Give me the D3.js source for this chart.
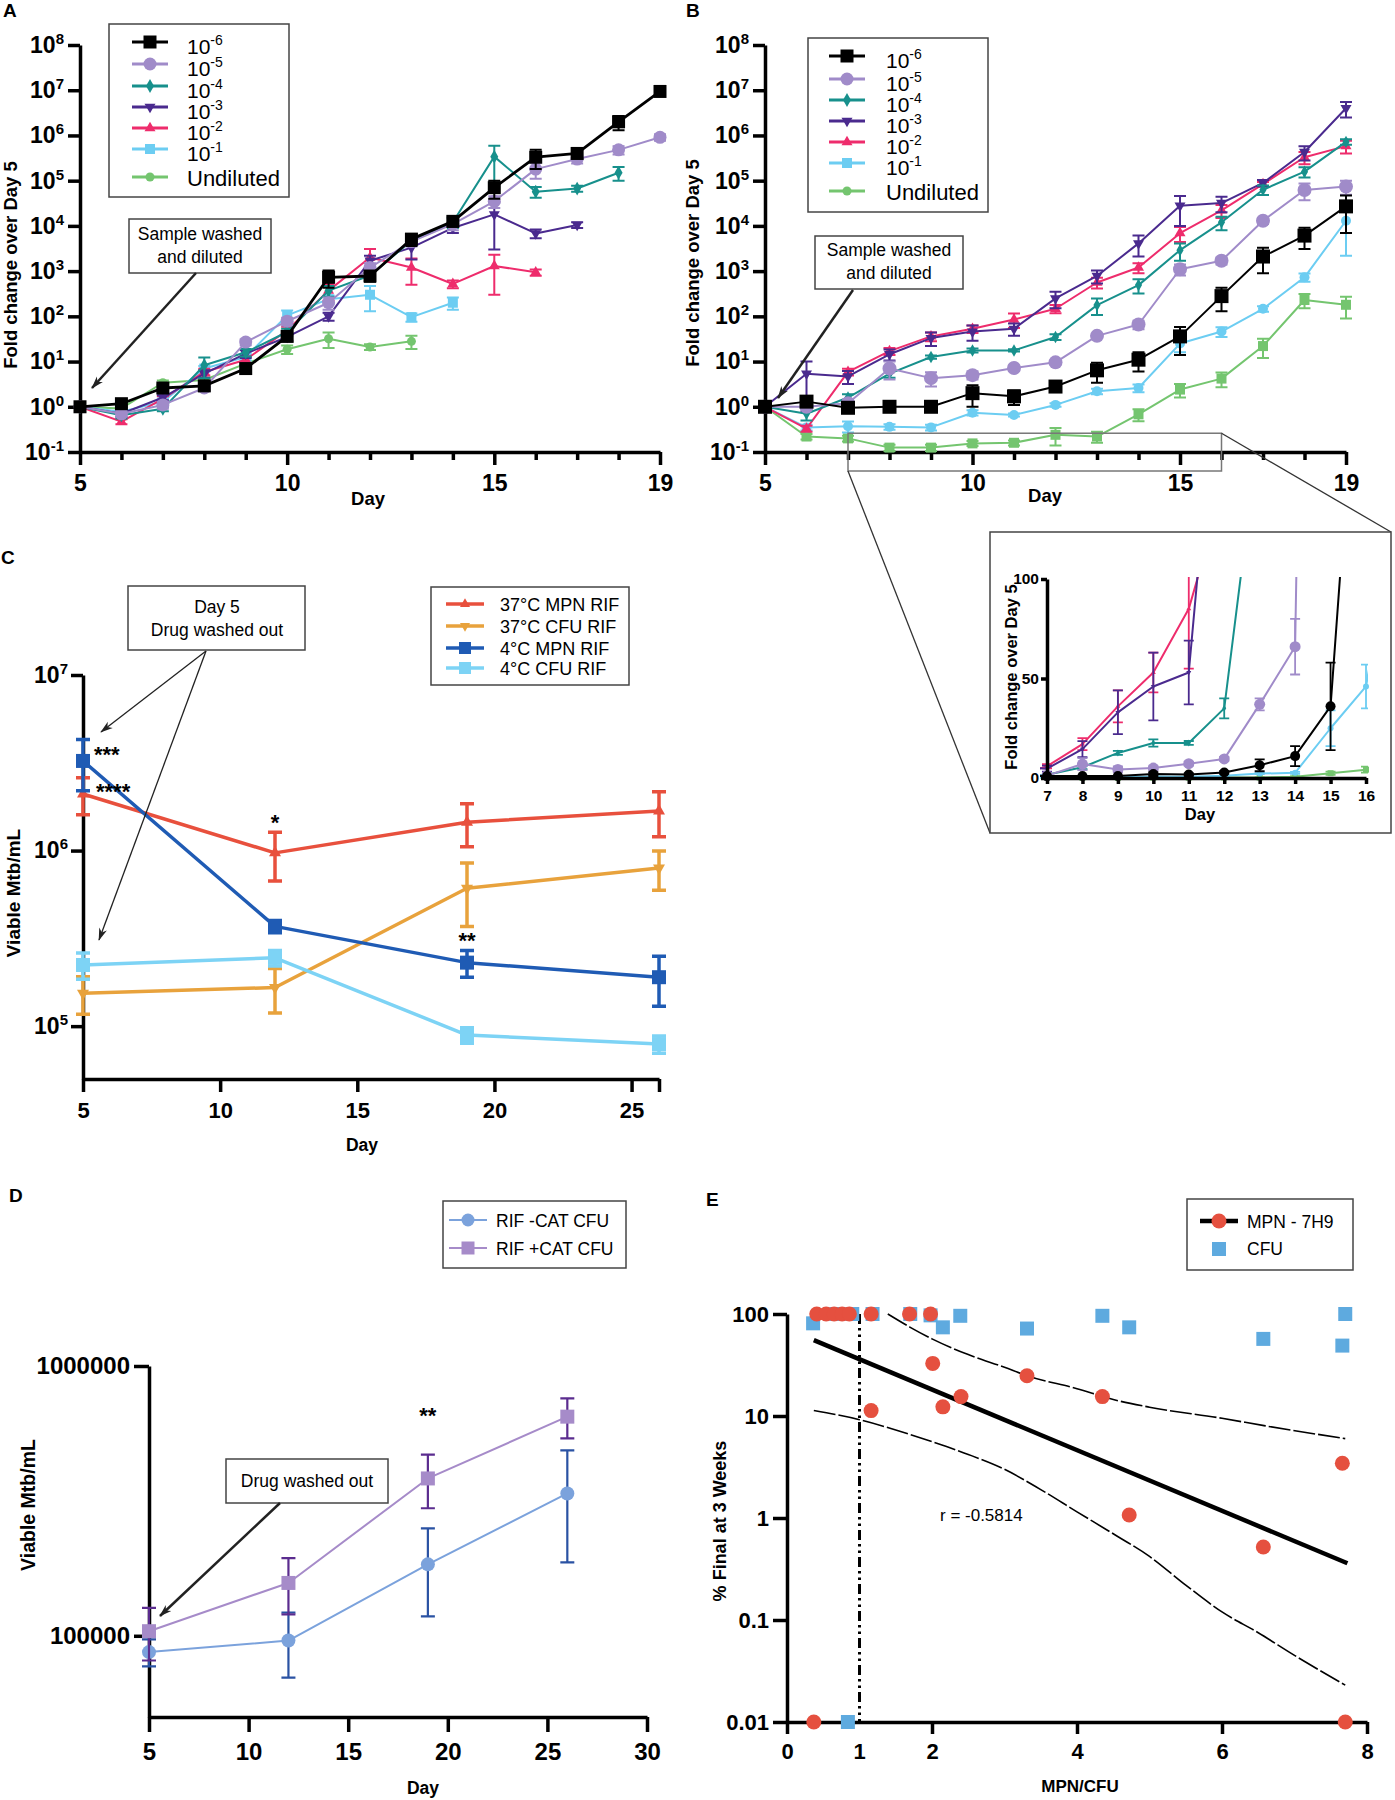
<!DOCTYPE html>
<html>
<head>
<meta charset="utf-8">
<script src="https://cdn.jsdelivr.net/npm/d3@7"></script>
<style>
  body { margin: 0; background: #fff; }
</style>
</head>
<body>
<svg id="fig" width="1395" height="1800"></svg>
<script>
// Five-panel figure: regrowth after dilution (A, B + inset), drug washout (C, D), MPN/CFU correlation (E).

// ---- A / B: fold change over day 5, by dilution ----
var days = [5, 6, 7, 8, 9, 10, 11, 12, 13, 14, 15, 16, 17, 18, 19];
var dilutionExp = [-6, -5, -4, -3, -2, -1];

var foldA_m6 = [1, 1.17, 2.6, 2.9, 7, 36, 730, 780, 5100, 12600, 70000, 330000, 400000, 2000000, 9400000];
var foldA_m5 = [1, 0.7, 1.1, 2.6, 27, 78, 200, 1200, 4500, 11000, 35000, 180000, 300000, 480000, 910000];
var foldA_m4 = [1, 0.65, 0.9, 8.3, 16, 45, 370, 800, 4700, 12000, 340000, 57000, 67000, 150000, null];
var foldA_m3 = [1, 0.7, 1.6, 5.4, 15, 35, 100, 1700, 3300, 9000, 18000, 6800, 10500, null, null];
var foldA_m2 = [1, 0.47, 1.5, 5.9, 11, 49, 370, 2000, 1200, 520, 1300, 940, null, null, null];
var foldA_m1 = [1, 0.78, 1.3, 7, 12.6, 105, 240, 300, 96, 200, null, null, null, null, null];
var foldA_und = [1, 0.92, 3.4, 3.9, 9, 18.7, 32, 21, 28, null, null, null, null, null, null];

var errA_m6 = [0.1, 0.2, 0.5, 0.6, 1.5, 8, 300, 200, 1500, 3000, 30000, 150000, 90000, 700000, 2000000];
var errA_m5 = [0, 0.1, 0.2, 0.4, 4, 15, 60, 300, 1000, 3000, 10000, 70000, 60000, 100000, 150000];
var errA_m4 = [0, 0.1, 0.1, 4, 3, 8, 100, 200, 1000, 3000, 250000, 15000, 10000, 50000, 0];
var errA_m3 = [0, 0.1, 0.2, 1, 3, 6, 20, 500, 1500, 2000, 15000, 1500, 1500, 0, 0];
var errA_m2 = [0, 0.06, 0.2, 1, 2, 10, 150, 1100, 700, 100, 1000, 150, 0, 0, 0];
var errA_m1 = [0, 0.1, 0.2, 1, 2, 30, 50, 170, 20, 60, 0, 0, 0, 0, 0];
var errA_und = [0, 0.1, 0.4, 0.5, 1, 4, 12, 3, 9, 0, 0, 0, 0, 0, 0];

var foldB_m6 = [1, 1.3, 0.95, 1, 1, 2.0, 1.7, 2.8, 6.4, 11, 36, 280, 2100, 6100, 27000];
var foldB_m5 = [1, 1, 1.2, 7, 4.3, 5, 7.2, 9.6, 37, 66, 1100, 1700, 13000, 62000, 74000];
var foldB_m4 = [1, 0.7, 1.6, 5.4, 12.6, 17.6, 17.6, 35, 177, 490, 2900, 12000, 63000, 158000, 720000];
var foldB_m3 = [1, 5.4, 4.7, 14.5, 33, 46, 53, 250, 780, 4100, 28000, 32000, 89000, 430000, 4000000];
var foldB_m2 = [1, 0.33, 5.9, 17, 36, 53, 85, 147, 560, 1200, 6900, 22000, 84000, 330000, 580000];
var foldB_m1 = [1, 0.35, 0.37, 0.36, 0.35, 0.74, 0.66, 1.1, 2.2, 2.6, 25, 46, 147, 730, 13000];
var foldB_und = [1, 0.22, 0.2, 0.125, 0.125, 0.155, 0.16, 0.24, 0.22, 0.68, 2.4, 4.2, 22, 230, 180];

var errB_m6 = [0.05, 0.3, 0.1, 0.1, 0.1, 1.0, 0.6, 0.6, 3, 5, 22, 150, 1200, 3000, 20000];
var errB_m5 = [0, 0.1, 0.2, 3, 1.5, 1, 1, 1, 3, 14, 300, 300, 2000, 25000, 25000];
var errB_m4 = [0, 0.2, 0.3, 1, 1, 1.8, 1, 5, 70, 170, 1200, 4000, 15000, 40000, 100000];
var errB_m3 = [0, 4.6, 1.5, 4, 11, 17, 16, 100, 250, 2000, 18000, 12000, 15000, 150000, 1500000];
var errB_m2 = [0, 0.05, 1, 3, 8, 10, 30, 30, 150, 300, 2500, 7000, 10000, 100000, 180000];
var errB_m1 = [0, 0.05, 0.1, 0.05, 0.05, 0.1, 0.05, 0.1, 0.3, 0.5, 9, 11, 20, 150, 10800];
var errB_und = [0, 0.03, 0.03, 0.02, 0.02, 0.02, 0.02, 0.1, 0.06, 0.2, 0.8, 1.5, 10, 80, 90];

// ---- C: viable Mtb after rifampicin washout ----
var daysC = [5, 12, 19, 26];
var namesC = ["37\u00b0C MPN RIF", "37\u00b0C CFU RIF", "4\u00b0C MPN RIF", "4\u00b0C CFU RIF"];
var c37mpn = [2.1e6, 9.7e5, 1.45e6, 1.68e6];
var c37mpnErr = [5e5, 3e5, 4e5, 4.8e5];
var c37cfu = [1.54e5, 1.66e5, 6.1e5, 7.95e5];
var c37cfuErr = [3.7e4, 4.7e4, 2.4e5, 2e5];
var c4mpn = [3.24e6, 3.7e5, 2.3e5, 1.9e5];
var c4mpnErr = [1.05e6, 3e4, 4e4, 6e4];
var c4cfu = [2.23e5, 2.45e5, 8.9e4, 7.9e4];
var c4cfuErr = [3.8e4, 2.5e4, 9e3, 9e3];

// ---- D: catalase ----
var daysD = [5, 12, 19, 26];
var namesD = ["RIF -CAT CFU", "RIF +CAT CFU"];
var dNoCat = [8.7e4, 9.6e4, 1.84e5, 3.37e5];
var dNoCatErr = [1e4, 2.6e4, 6.6e4, 1.5e5];
var dCat = [1.04e5, 1.57e5, 3.83e5, 6.49e5];
var dCatErr = [2.3e4, 3.7e4, 8.6e4, 1.1e5];

// ---- E: % final at 3 weeks vs MPN/CFU ----
var mpnX = [0.37, 0.41, 0.54, 0.65, 0.76, 0.86, 1.16, 1.16, 1.69, 1.98, 2.01, 2.15, 2.4, 3.31, 4.35, 4.72, 6.57, 7.66, 7.7];
var mpnY = [0.01, 100, 100, 100, 100, 100, 100, 11.3, 100, 100, 32.8, 12.3, 15.5, 24.8, 15.5, 1.07, 0.52, 3.44, 0.01];
var cfuX = [0.36, 0.68, 0.84, 0.9, 1.18, 1.7, 1.98, 2.15, 2.39, 3.31, 4.35, 4.72, 6.57, 7.66, 7.7];
var cfuY = [81, 100, 0.01, 100, 100, 100, 97, 74, 96, 72, 96, 74, 57, 49, 100];
var fitX = [0.37, 7.73];
var fitY = [55.5, 0.36];
var bandHiX = [1.39, 1.7, 2.0, 2.5, 3.0, 3.3, 4.0, 4.5, 5.0, 6.0, 6.6, 7.7];
var bandHiY = [100, 74, 57, 40, 30, 25, 18.5, 14.5, 12.2, 9.5, 8, 6];
var bandLoX = [0.37, 1, 1.5, 2, 2.5, 3, 3.5, 4, 4.5, 5, 5.5, 6, 6.5, 7, 7.7];
var bandLoY = [11.3, 9.2, 7.3, 5.6, 4.2, 3.0, 1.9, 1.15, 0.7, 0.42, 0.22, 0.12, 0.075, 0.045, 0.023];
var rLabel = "r = -0.5814";

var FONT = '"Liberation Sans", Arial, Helvetica, sans-serif';
var svg = d3.select("#fig").attr("font-family", FONT);
var defs = svg.append("defs");

defs.append("marker").attr("id", "arr")
    .attr("viewBox", "0 0 14 10").attr("refX", 13).attr("refY", 5)
    .attr("markerWidth", 14).attr("markerHeight", 9)
    .attr("markerUnits", "userSpaceOnUse").attr("orient", "auto")
    .append("path").attr("d", "M0,0.5L14,5L0,9.5L4,5Z").attr("fill", "#222");

function symPath(sym, w) {
    if (sym === "square") { return d3.symbol(d3.symbolSquare, w * w)(); }
    if (sym === "circle") { return d3.symbol(d3.symbolCircle, Math.PI * w * w / 4)(); }
    if (sym === "diamond") { return d3.symbol(d3.symbolDiamond, w * w * 0.55)(); }
    return d3.symbol(d3.symbolTriangle, Math.sqrt(3) / 4 * w * w)();
}

function markerAt(g, sym, w, color, x, y) {
    g.append("path")
        .attr("transform", "translate(" + x + "," + y + ")" + (sym === "triDown" ? " rotate(180)" : ""))
        .attr("d", symPath(sym, w))
        .attr("fill", color);
}

function drawSeries(g, xs, ys, es, xS, yS, st, opt) {
    opt = opt || {};
    var lo = yS.domain()[0];
    var pts = xs.map(function (x, i) { return { x: x, y: ys[i], e: es ? es[i] : 0 }; })
        .filter(function (p) { return p.y != null; });
    var back = g.append("g").attr("clip-path", opt.clip || null);
    back.selectAll("path").data(pts.filter(function (p) { return p.e > 0; })).join("path")
        .attr("d", function (p) {
            var cx = xS(p.x), y1 = yS(p.y + p.e), y2 = yS(Math.max(p.y - p.e, lo)), c = st.cap;
            return "M" + cx + "," + y1 + "V" + y2 +
                "M" + (cx - c) + "," + y1 + "H" + (cx + c) +
                "M" + (cx - c) + "," + y2 + "H" + (cx + c);
        })
        .attr("fill", "none").attr("stroke", st.errColor || st.color).attr("stroke-width", st.ew);
    back.append("path").datum(pts)
        .attr("d", d3.line().x(function (p) { return xS(p.x); }).y(function (p) { return yS(p.y); }))
        .attr("fill", "none").attr("stroke", st.color).attr("stroke-width", st.lw)
        .attr("stroke-linejoin", "round");
    var keep = opt.keep || function () { return true; };
    g.append("g").selectAll("path").data(pts.filter(keep)).join("path")
        .attr("transform", function (p) {
            return "translate(" + xS(p.x) + "," + yS(p.y) + ")" + (st.sym === "triDown" ? " rotate(180)" : "");
        })
        .attr("d", symPath(st.sym, st.size))
        .attr("fill", st.color);
}

function styleAxis(g, w, fs) {
    g.attr("font-family", FONT).attr("font-size", fs).attr("font-weight", "bold");
    g.select(".domain").attr("stroke", "#000").attr("stroke-width", w);
    g.selectAll(".tick line").attr("stroke", "#000").attr("stroke-width", w);
    g.selectAll(".tick text").attr("fill", "#000");
}

function powTicks(g, efs) {
    g.selectAll(".tick text").each(function (d) {
        var t = d3.select(this);
        var e = Math.round(Math.log10(d));
        t.text(null);
        t.append("tspan").text("10");
        t.append("tspan").attr("font-size", efs).attr("dy", -9).text(e);
    });
}

function powText(g, x, y, exp, fs, efs) {
    var t = g.append("text").attr("x", x).attr("y", y).attr("font-size", fs);
    t.append("tspan").text("10");
    t.append("tspan").attr("font-size", efs).attr("dy", -9).text(exp);
    return t;
}

function label(g, x, y, txt, fs, opts) {
    opts = opts || {};
    return g.append("text").attr("x", x).attr("y", y)
        .attr("font-size", fs)
        .attr("font-weight", opts.bold ? "bold" : null)
        .attr("text-anchor", opts.anchor || "start")
        .attr("transform", opts.rot ? "rotate(-90," + x + "," + y + ")" : null)
        .text(txt);
}

function box(g, x0, y0, x1, y1, w) {
    g.append("rect").attr("x", x0).attr("y", y0).attr("width", x1 - x0).attr("height", y1 - y0)
        .attr("fill", "#fff").attr("stroke", "#444").attr("stroke-width", w || 1.5);
}

function arrow(g, x1, y1, x2, y2, w) {
    g.append("line").attr("x1", x1).attr("y1", y1).attr("x2", x2).attr("y2", y2)
        .attr("stroke", "#222").attr("stroke-width", w).attr("marker-end", "url(#arr)");
}

// series styling for A and B (same order as the legend)
var dilColors = ["#000000", "#a08bc9", "#17908c", "#4a2a8e", "#ee2c6c", "#6ccdf2", "#74c56f"];
var symA = ["square", "circle", "diamond", "triDown", "triUp", "square", "circle"];
var sizeA = [13, 13, 10, 11, 11, 10, 9];
var symB = ["square", "circle", "diamond", "triDown", "triUp", "circle", "square"];
var sizeB = [14, 14, 9, 11, 11, 10, 10];
var foldA = [foldA_m6, foldA_m5, foldA_m4, foldA_m3, foldA_m2, foldA_m1, foldA_und];
var errA = [errA_m6, errA_m5, errA_m4, errA_m3, errA_m2, errA_m1, errA_und];
var foldB = [foldB_m6, foldB_m5, foldB_m4, foldB_m3, foldB_m2, foldB_m1, foldB_und];
var errB = [errB_m6, errB_m5, errB_m4, errB_m3, errB_m2, errB_m1, errB_und];

function foldAxes(g, xS, yS) {
    var majors = [5, 10, 15, 19];
    var gx = g.append("g").attr("transform", "translate(0," + yS.range()[0] + ")")
        .call(d3.axisBottom(xS).tickValues(days).tickSize(8).tickSizeOuter(0).tickPadding(15)
            .tickFormat(function (d) { return majors.indexOf(d) >= 0 ? d : ""; }));
    styleAxis(gx, 3.5, 23);
    gx.selectAll(".tick line").filter(function (d) { return majors.indexOf(d) >= 0; }).attr("y2", 13);
    var gy = g.append("g").attr("transform", "translate(" + xS.range()[0] + ",0)")
        .call(d3.axisLeft(yS).tickValues([0.1, 1, 10, 100, 1e3, 1e4, 1e5, 1e6, 1e7, 1e8])
            .tickSize(12).tickSizeOuter(0).tickPadding(4));
    styleAxis(gy, 3.5, 23);
    powTicks(gy, 15);
}

function foldLegend(g, x0, y0, x1, y1, rows, lineX0, lineX1, textX, fs, syms, sizes) {
    box(g, x0, y0, x1, y1, 1.5);
    rows.forEach(function (ry, i) {
        var mx = (lineX0 + lineX1) / 2;
        g.append("line").attr("x1", lineX0).attr("x2", lineX1).attr("y1", ry).attr("y2", ry)
            .attr("stroke", dilColors[i]).attr("stroke-width", 3);
        markerAt(g, syms[i], sizes[i], dilColors[i], mx, ry);
        if (i < dilutionExp.length) {
            powText(g, textX, ry + 12, dilutionExp[i], fs - 1, 14);
        } else {
            label(g, textX, ry + 9, "Undiluted", fs);
        }
    });
}

// ================= Panel A =================
var xA = d3.scaleLinear().domain([5, 19]).range([80, 660]);
var yA = d3.scaleLog().domain([0.1, 1e8]).range([452, 45]);
var gA = svg.append("g");
label(gA, 3, 17, "A", 19, { bold: true });
foldAxes(gA, xA, yA);
for (var i = dilColors.length - 1; i >= 0; i--) {
    drawSeries(gA, days, foldA[i], errA[i], xA, yA,
        { color: dilColors[i], sym: symA[i], size: sizeA[i], lw: i === 0 ? 2.8 : 2, ew: 2, cap: 6 });
}
label(gA, 17, 265, "Fold change over Day 5", 18.5, { bold: true, anchor: "middle", rot: true });
label(gA, 368, 505, "Day", 18.5, { bold: true, anchor: "middle" });
foldLegend(gA, 109, 24, 289, 197, [42, 64, 86, 107, 128, 149, 177], 132, 168, 187, 22, symA, sizeA);
box(gA, 129, 219, 271, 273, 1.5);
label(gA, 200, 240, "Sample washed", 17.5, { anchor: "middle" });
label(gA, 200, 263, "and diluted", 17.5, { anchor: "middle" });
arrow(gA, 196, 273, 92, 388, 2.5);

// ================= Panel B =================
var xB = d3.scaleLinear().domain([5, 19]).range([765, 1346]);
var yB = d3.scaleLog().domain([0.1, 1e8]).range([452, 45]);
var gB = svg.append("g");
label(gB, 686, 17, "B", 19, { bold: true });
foldAxes(gB, xB, yB);
for (var j = dilColors.length - 1; j >= 0; j--) {
    drawSeries(gB, days, foldB[j], errB[j], xB, yB,
        { color: dilColors[j], sym: symB[j], size: sizeB[j], lw: 2, ew: 2, cap: 6 });
}
label(gB, 699, 263, "Fold change over Day 5", 18.5, { bold: true, anchor: "middle", rot: true });
label(gB, 1045, 502, "Day", 18.5, { bold: true, anchor: "middle" });
foldLegend(gB, 808, 38, 988, 212, [56, 79, 100, 121, 142, 163, 191], 829, 865, 886, 22, symA, sizeA);
box(gB, 815, 236, 963, 289, 1.5);
label(gB, 889, 256, "Sample washed", 17.5, { anchor: "middle" });
label(gB, 889, 279, "and diluted", 17.5, { anchor: "middle" });
arrow(gB, 853, 290, 778, 398, 2.5);

// zoom window on B and its connectors to the inset
var zx0 = xB(7), zx1 = xB(16), zy0 = yB(0.26), zy1 = yB(0.1) + 19;
gB.append("rect").attr("x", zx0).attr("y", zy0).attr("width", zx1 - zx0).attr("height", zy1 - zy0)
    .attr("fill", "none").attr("stroke", "#777").attr("stroke-width", 1.5);

// ================= Inset (linear zoom of B) =================
var xI = d3.scaleLinear().domain([7, 16]).range([1047, 1366]);
var yI = d3.scaleLinear().domain([0, 100]).range([778, 579]);
var gI = svg.append("g");
gB.append("line").attr("x1", zx0).attr("y1", zy1).attr("x2", 990).attr("y2", 833).attr("stroke", "#333").attr("stroke-width", 1.3);
gB.append("line").attr("x1", zx1).attr("y1", zy0).attr("x2", 1391).attr("y2", 532).attr("stroke", "#333").attr("stroke-width", 1.3);
box(gI, 990, 532, 1391, 833, 1.5);
defs.append("clipPath").attr("id", "insetClip").append("rect")
    .attr("x", 1040).attr("y", 577).attr("width", 1368 - 1040).attr("height", 782 - 577);
var symI = ["circle", "circle", "diamond", "triDown", "triUp", "circle", "square"];
var sizeI = [10, 11, 5, 5, 5, 6, 6];
for (var k = dilColors.length - 1; k >= 0; k--) {
    drawSeries(gI, days, foldB[k], errB[k], xI, yI,
        { color: dilColors[k], sym: symI[k], size: sizeI[k], lw: 2, ew: 1.8, cap: 5 },
        { clip: "url(#insetClip)", keep: function (p) { return p.x >= 7 && p.x <= 16 && p.y <= 100; } });
}
var gIx = gI.append("g").attr("transform", "translate(0,778)")
    .call(d3.axisBottom(xI).tickValues(d3.range(7, 17)).tickSize(6).tickSizeOuter(0).tickPadding(6));
styleAxis(gIx, 3.5, 15.5);
var gIy = gI.append("g").attr("transform", "translate(1047,0)")
    .call(d3.axisLeft(yI).tickValues([0, 50, 100]).tickSize(6).tickSizeOuter(0).tickPadding(2));
styleAxis(gIy, 3.5, 15.5);
label(gI, 1017, 677, "Fold change over Day 5", 16.5, { bold: true, anchor: "middle", rot: true });
label(gI, 1200, 820, "Day", 16.5, { bold: true, anchor: "middle" });

// ================= Panel C =================
var xC = d3.scaleLinear().domain([5, 26]).range([83, 659]);
var yC = d3.scaleLog().domain([5e4, 1e7]).range([1079, 675]);
var gC = svg.append("g");
label(gC, 1, 564, "C", 19, { bold: true });
var gCx = gC.append("g").attr("transform", "translate(0,1079)")
    .call(d3.axisBottom(xC).tickValues([5, 10, 15, 20, 25, 26]).tickSize(13).tickSizeOuter(0).tickPadding(10)
        .tickFormat(function (d) { return d === 26 ? "" : d; }));
styleAxis(gCx, 3.5, 22);
var gCy = gC.append("g").attr("transform", "translate(83,0)")
    .call(d3.axisLeft(yC).tickValues([1e5, 1e6, 1e7]).tickSize(12).tickSizeOuter(0).tickPadding(3));
styleAxis(gCy, 3.5, 23);
powTicks(gCy, 15);
var colorsC = ["#e8503d", "#e8a23c", "#1f5bb4", "#7dd3f5"];
var symC = ["triUp", "triDown", "square", "square"];
var sizeC = [12, 12, 14, 14];
var valsC = [c37mpn, c37cfu, c4mpn, c4cfu];
var errsC = [c37mpnErr, c37cfuErr, c4mpnErr, c4cfuErr];
[1, 0, 3, 2].forEach(function (s) {
    drawSeries(gC, daysC, valsC[s], errsC[s], xC, yC,
        { color: colorsC[s], sym: symC[s], size: sizeC[s], lw: 3.5, ew: 3.5, cap: 7 });
});
label(gC, 94, 762, "***", 22, { bold: true });
label(gC, 96, 799, "****", 22, { bold: true });
label(gC, xC(12), 830, "*", 22, { bold: true, anchor: "middle" });
label(gC, xC(19), 948, "**", 22, { bold: true, anchor: "middle" });
label(gC, 20, 893, "Viable Mtb/mL", 19, { bold: true, anchor: "middle", rot: true });
label(gC, 362, 1151, "Day", 17.5, { bold: true, anchor: "middle" });
box(gC, 128, 586, 305, 650, 1.5);
label(gC, 217, 613, "Day 5", 17.5, { anchor: "middle" });
label(gC, 217, 636, "Drug washed out", 17.5, { anchor: "middle" });
arrow(gC, 206, 651, 101, 732, 1.3);
arrow(gC, 206, 651, 99, 940, 1.3);
box(gC, 431, 587, 629, 685, 1.5);
[604, 626, 648, 668].forEach(function (ry, i) {
    gC.append("line").attr("x1", 446).attr("x2", 484).attr("y1", ry).attr("y2", ry)
        .attr("stroke", colorsC[i]).attr("stroke-width", 3.5);
    markerAt(gC, symC[i], sizeC[i] - 2, colorsC[i], 465, ry);
    label(gC, 500, ry + 7, namesC[i], 18);
});

// ================= Panel D =================
var xD = d3.scaleLinear().domain([5, 30]).range([149, 647]);
var yD = d3.scaleLog().domain([5e4, 1e6]).range([1717, 1366]);
var gD = svg.append("g");
label(gD, 9, 1202, "D", 19, { bold: true });
var gDx = gD.append("g").attr("transform", "translate(0,1717)")
    .call(d3.axisBottom(xD).tickValues([5, 10, 15, 20, 25, 30]).tickSize(15).tickSizeOuter(0).tickPadding(11));
styleAxis(gDx, 3.5, 24);
var gDy = gD.append("g").attr("transform", "translate(149,0)")
    .call(d3.axisLeft(yD).tickValues([1e5, 1e6]).tickSize(15).tickSizeOuter(0).tickPadding(4)
        .tickFormat(d3.format("d")));
styleAxis(gDy, 3.5, 24);
var colorsD = ["#7ba2dc", "#a68bc9"];
var errColorsD = ["#2a52a3", "#5b2c8f"];
var symD = ["circle", "square"];
[dNoCat, dCat].forEach(function (vals, s) {
    drawSeries(gD, daysD, vals, [dNoCatErr, dCatErr][s], xD, yD,
        { color: colorsD[s], errColor: errColorsD[s], sym: symD[s], size: 14, lw: 2, ew: 2.2, cap: 7 });
});
label(gD, xD(19), 1423, "**", 22, { bold: true, anchor: "middle" });
label(gD, 35, 1505, "Viable Mtb/mL", 19.5, { bold: true, anchor: "middle", rot: true });
label(gD, 423, 1794, "Day", 17.5, { bold: true, anchor: "middle" });
box(gD, 226, 1459, 388, 1503, 1.5);
label(gD, 307, 1487, "Drug washed out", 17.5, { anchor: "middle" });
arrow(gD, 280, 1503, 160, 1616, 2.5);
box(gD, 443, 1201, 626, 1268, 1.5);
[1220, 1248].forEach(function (ry, i) {
    gD.append("line").attr("x1", 449).attr("x2", 487).attr("y1", ry).attr("y2", ry)
        .attr("stroke", colorsD[i]).attr("stroke-width", 2);
    markerAt(gD, symD[i], 13, colorsD[i], 468, ry);
    label(gD, 496, ry + 7, namesD[i], 17.5);
});

// ================= Panel E =================
var xE = d3.scaleLinear().domain([0, 8]).range([787, 1367]);
var yE = d3.scaleLog().domain([0.01, 100]).range([1722, 1314]);
var gE = svg.append("g");
label(gE, 706, 1206, "E", 19, { bold: true });
var gEx = gE.append("g").attr("transform", "translate(0,1722)")
    .call(d3.axisBottom(xE).tickValues([0, 2, 4, 6, 8]).tickSize(12).tickSizeOuter(0).tickPadding(9));
styleAxis(gEx, 3.5, 22);
gEx.append("text").attr("x", xE(1)).attr("y", 12 + 9).attr("dy", "0.71em")
    .attr("text-anchor", "middle").attr("fill", "#000").text("1");
var gEy = gE.append("g").attr("transform", "translate(787,0)")
    .call(d3.axisLeft(yE).tickValues([0.01, 0.1, 1, 10, 100]).tickSize(14).tickSizeOuter(0).tickPadding(4)
        .tickFormat(function (d) { return d >= 1 ? d3.format("d")(d) : String(d); }));
styleAxis(gEy, 3.5, 22);

var lineE = d3.line().x(function (p) { return xE(p[0]); }).y(function (p) { return yE(p[1]); });
gE.append("path").datum([[1, 100], [1, 0.01]]).attr("d", lineE)
    .attr("stroke", "#000").attr("stroke-width", 3).attr("stroke-dasharray", "10,4,2.5,4,2.5,4").attr("fill", "none");
gE.append("path").datum(d3.zip(bandHiX, bandHiY)).attr("d", lineE.curve(d3.curveMonotoneX))
    .attr("stroke", "#000").attr("stroke-width", 1.6).attr("stroke-dasharray", "22,3").attr("fill", "none");
gE.append("path").datum(d3.zip(bandLoX, bandLoY)).attr("d", lineE.curve(d3.curveMonotoneX))
    .attr("stroke", "#000").attr("stroke-width", 1.6).attr("stroke-dasharray", "22,3").attr("fill", "none");
gE.append("path").datum(d3.zip(fitX, fitY)).attr("d", lineE.curve(d3.curveLinear))
    .attr("stroke", "#000").attr("stroke-width", 4.5).attr("fill", "none");
gE.append("g").selectAll("path").data(d3.zip(cfuX, cfuY)).join("path")
    .attr("transform", function (p) { return "translate(" + xE(p[0]) + "," + yE(p[1]) + ")"; })
    .attr("d", symPath("square", 14)).attr("fill", "#5eaadf");
gE.append("g").selectAll("path").data(d3.zip(mpnX, mpnY)).join("path")
    .attr("transform", function (p) { return "translate(" + xE(p[0]) + "," + yE(p[1]) + ")"; })
    .attr("d", symPath("circle", 15)).attr("fill", "#e5503f");
label(gE, 940, 1521, rLabel, 17, { });
label(gE, 726, 1521, "% Final at 3 Weeks", 18, { bold: true, anchor: "middle", rot: true });
label(gE, 1080, 1792, "MPN/CFU", 17, { bold: true, anchor: "middle" });
box(gE, 1187, 1199, 1353, 1270, 1.5);
gE.append("line").attr("x1", 1200).attr("x2", 1238).attr("y1", 1221).attr("y2", 1221)
    .attr("stroke", "#000").attr("stroke-width", 4.5);
markerAt(gE, "circle", 15, "#e5503f", 1219, 1221);
markerAt(gE, "square", 14, "#5eaadf", 1219, 1249);
label(gE, 1247, 1228, "MPN - 7H9", 17.5);
label(gE, 1247, 1255, "CFU", 17.5);
</script>
</body>
</html>
